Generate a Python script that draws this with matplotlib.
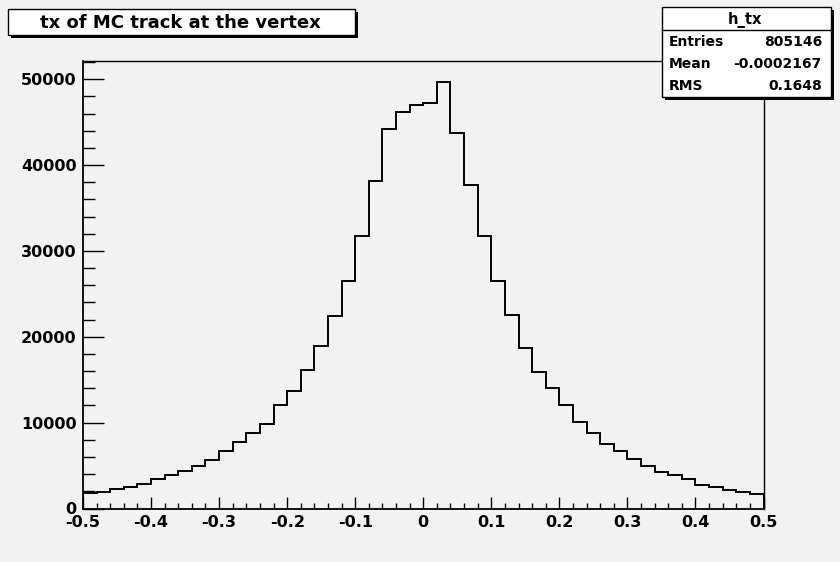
import matplotlib
matplotlib.use("Agg")
import matplotlib.pyplot as plt
from matplotlib.patches import Rectangle
from matplotlib.lines import Line2D
from matplotlib.ticker import MultipleLocator
import numpy as np

plt.rcParams['font.family'] = ['DejaVu Sans']
plt.rcParams['font.weight'] = 'bold'

# ---------------- data ----------------
x_low, x_high, n_bins = -0.5, 0.5, 50
counts = [1750, 1950, 2300, 2500, 2900, 3400, 3850, 4400, 5000, 5700,
          6650, 7700, 8750, 9850, 12000, 13700, 16100, 18950, 22400, 26500,
          31700, 38150, 44200, 46150, 47050, 47250, 49650, 43800, 37700, 31700,
          26500, 22600, 18700, 15900, 14000, 12050, 10100, 8800, 7500, 6650,
          5750, 4900, 4250, 3850, 3450, 2750, 2450, 2200, 1900, 1650]
title = "tx of MC track at the vertex"
stats_name = "h_tx"
stats_labels = ["Entries", "Mean", "RMS"]
stats_values = ["805146", "-0.0002167", "0.1648"]
xtick_values = [-0.5, -0.4, -0.3, -0.2, -0.1, 0.0, 0.1, 0.2, 0.3, 0.4, 0.5]
xtick_labels = ["-0.5", "-0.4", "-0.3", "-0.2", "-0.1", "0", "0.1", "0.2", "0.3", "0.4", "0.5"]
ytick_values = [0, 10000, 20000, 30000, 40000, 50000]
ytick_labels = ["0", "10000", "20000", "30000", "40000", "50000"]

# ---------------- layout ----------------
W, H = 840, 562
BG = '#f2f2f2'
fig = plt.figure(figsize=(W / 100, H / 100), dpi=100, facecolor=BG)

def fr(x0, y0, x1, y1):
    """pixel box (top-left origin) -> figure fraction rect"""
    return (x0 / W, 1 - y1 / H, (x1 - x0) / W, (y1 - y0) / H)

L, R, T, B = 83, 763.5, 61, 508.5
ax = fig.add_axes(fr(L, T, R, B))
ax.set_facecolor(BG)

edges = np.linspace(x_low, x_high, n_bins + 1)
ax.stairs(counts, edges, color='black', linewidth=1.4, baseline=0)

ax.set_xlim(x_low, x_high)
ax.set_ylim(0, 1.05 * max(counts))
ax.set_xticks(xtick_values)
ax.set_xticklabels(xtick_labels)
ax.set_yticks(ytick_values)
ax.set_yticklabels(ytick_labels)
ax.xaxis.set_minor_locator(MultipleLocator(0.02))
ax.yaxis.set_minor_locator(MultipleLocator(2000))

ax.tick_params(axis='y', which='major', direction='in', length=15, width=1,
               pad=4.5, labelsize=11.5, right=False)
ax.tick_params(axis='y', which='minor', direction='in', length=8.5, width=1, right=False)
ax.tick_params(axis='x', which='major', direction='in', length=9, width=1,
               pad=4.5, labelsize=11.5, top=False)
ax.tick_params(axis='x', which='minor', direction='in', length=4.5, width=1, top=False)
for lbl in ax.get_xticklabels() + ax.get_yticklabels():
    lbl.set_fontweight('bold')

for s in ax.spines.values():
    s.set_color('black')
    s.set_linewidth(1)
ax.spines['left'].set_linewidth(1.3)
ax.spines['bottom'].set_linewidth(1.3)

# ---------------- title box ----------------
def shadow_box(x0, y0, x1, y1, off=3):
    fig.add_artist(Rectangle(fr(x0 + off, y0 + off, x1 + off, y1 + off)[:2],
                             (x1 - x0) / W, (y1 - y0) / H,
                             transform=fig.transFigure, facecolor='black',
                             edgecolor='black', lw=0, zorder=5))
    fig.add_artist(Rectangle(fr(x0, y0, x1, y1)[:2],
                             (x1 - x0) / W, (y1 - y0) / H,
                             transform=fig.transFigure, facecolor='white',
                             edgecolor='black', lw=1, zorder=6))

shadow_box(7.5, 9, 355, 35)
fig.text(180 / W, 1 - 22.5 / H, title, ha='center', va='center',
         fontsize=13, fontweight='bold', zorder=7)

# ---------------- stats box ----------------
sx0, sy0, sx1, sy1 = 661.5, 7.5, 830.5, 97
shadow_box(sx0, sy0, sx1, sy1)
fig.add_artist(Line2D([sx0 / W, sx1 / W], [1 - 30 / H, 1 - 30 / H],
                      transform=fig.transFigure, color='black', lw=1, zorder=7))
fig.text(745 / W, 1 - 19.5 / H, stats_name, ha='center', va='center',
         fontsize=10.5, fontweight='bold', zorder=7)
row_y = [42.5, 64, 86.5]
for lab, val, yy in zip(stats_labels, stats_values, row_y):
    fig.text(669 / W, 1 - yy / H, lab, ha='left', va='center',
             fontsize=10, fontweight='bold', zorder=7)
    fig.text(822 / W, 1 - yy / H, val, ha='right', va='center',
             fontsize=10, fontweight='bold', zorder=7)

fig.savefig("out.png", dpi=100, facecolor=BG)
